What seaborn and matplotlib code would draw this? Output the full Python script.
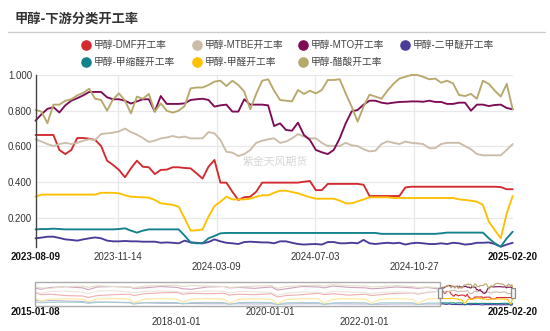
import numpy as np
import pandas as pd
import matplotlib
matplotlib.use('Agg')
import matplotlib.pyplot as plt
import matplotlib.transforms as mtransforms
from matplotlib.lines import Line2D
from matplotlib.patches import Rectangle
import seaborn as sns

# ---------------- data ----------------
TITLE = '甲醇-下游分类开工率'
WATERMARK = '紫金天风期货'
SERIES = ['甲醇-DMF开工率', '甲醇-MTBE开工率', '甲醇-MTO开工率', '甲醇-二甲醚开工率',
          '甲醇-甲缩醛开工率', '甲醇-甲醛开工率', '甲醇-醋酸开工率']
COLORS = ['#d42a2f', '#cbbca8', '#7d0c55', '#4b3b98', '#13818b', '#ffc000', '#b7a86c']

START, END = '2023-08-09', '2025-02-20'
TICK_DATES = ['2023-11-14', '2024-03-09', '2024-07-03', '2024-10-27']
NAV_START = '2015-01-08'
NAV_TICKS = ['2018-01-01', '2020-01-01', '2022-01-01']

DMF = [0.664, 0.664, 0.664, 0.664, 0.58, 0.557, 0.58, 0.647, 0.647, 0.643,
       0.636, 0.602, 0.52, 0.496, 0.468, 0.427, 0.477, 0.52, 0.486, 0.483,
       0.445, 0.468, 0.47, 0.483, 0.483, 0.479, 0.477, 0.449, 0.42, 0.486,
       0.524, 0.397, 0.397, 0.346, 0.30, 0.315, 0.318, 0.346, 0.397, 0.397,
       0.397, 0.397, 0.397, 0.397, 0.397, 0.402, 0.406, 0.355, 0.355, 0.39,
       0.39, 0.39, 0.39, 0.39, 0.39, 0.385, 0.322, 0.322, 0.322, 0.322,
       0.322, 0.322, 0.37, 0.374, 0.374, 0.374, 0.374, 0.374, 0.374, 0.374,
       0.374, 0.374, 0.374, 0.374, 0.374, 0.374, 0.374, 0.374, 0.372, 0.36, 0.36]
MTBE = [0.64, 0.627, 0.613, 0.602, 0.613, 0.62, 0.613, 0.62, 0.632, 0.64,
        0.636, 0.669, 0.673, 0.677, 0.684, 0.70, 0.68, 0.666, 0.647, 0.625,
        0.632, 0.645, 0.65, 0.658, 0.65, 0.655, 0.645, 0.645, 0.645, 0.68,
        0.673, 0.636, 0.57, 0.565, 0.546, 0.557, 0.58, 0.62, 0.632, 0.64,
        0.645, 0.62, 0.627, 0.645, 0.669, 0.655, 0.645, 0.645, 0.62, 0.602,
        0.602, 0.602, 0.62, 0.606, 0.602, 0.584, 0.572, 0.576, 0.613, 0.628,
        0.62, 0.613, 0.627, 0.62, 0.617, 0.613, 0.59, 0.59, 0.613, 0.62,
        0.62, 0.62, 0.602, 0.584, 0.557, 0.55, 0.55, 0.55, 0.55, 0.58, 0.613]
MTO = [0.744, 0.78, 0.81, 0.82, 0.79, 0.83, 0.856, 0.87, 0.886, 0.905,
       0.905, 0.905, 0.875, 0.864, 0.864, 0.856, 0.84, 0.852, 0.864, 0.864,
       0.795, 0.882, 0.838, 0.838, 0.838, 0.841, 0.86, 0.864, 0.867, 0.86,
       0.823, 0.83, 0.834, 0.795, 0.795, 0.864, 0.834, 0.834, 0.834, 0.83,
       0.714, 0.729, 0.692, 0.688, 0.733, 0.664, 0.636, 0.58, 0.567, 0.557,
       0.58, 0.645, 0.729, 0.796, 0.804, 0.834, 0.856, 0.856, 0.845, 0.84,
       0.845, 0.849, 0.85, 0.852, 0.852, 0.85, 0.856, 0.849, 0.849, 0.838,
       0.838, 0.845, 0.845, 0.80, 0.834, 0.834, 0.826, 0.832, 0.834, 0.815, 0.808]
DME = [0.085, 0.089, 0.094, 0.094, 0.087, 0.079, 0.076, 0.072, 0.079, 0.085,
       0.09, 0.085, 0.072, 0.068, 0.068, 0.07, 0.068, 0.068, 0.066, 0.066,
       0.066, 0.06, 0.062, 0.06, 0.057, 0.072, 0.062, 0.06, 0.057, 0.064,
       0.079, 0.068, 0.06, 0.057, 0.053, 0.064, 0.066, 0.064, 0.062, 0.062,
       0.057, 0.068, 0.068, 0.06, 0.053, 0.05, 0.052, 0.053, 0.05, 0.064,
       0.064, 0.057, 0.057, 0.06, 0.057, 0.076, 0.057, 0.053, 0.057, 0.06,
       0.057, 0.06, 0.05, 0.057, 0.06, 0.057, 0.053, 0.053, 0.057, 0.053,
       0.06, 0.057, 0.05, 0.053, 0.06, 0.06, 0.062, 0.053, 0.038, 0.05, 0.06]
POM = [0.135, 0.137, 0.137, 0.139, 0.137, 0.135, 0.135, 0.135, 0.135, 0.135,
       0.135, 0.135, 0.135, 0.135, 0.137, 0.141, 0.128, 0.117, 0.128, 0.135,
       0.135, 0.135, 0.135, 0.135, 0.135, 0.10, 0.062, 0.057, 0.057, 0.085,
       0.098, 0.113, 0.115, 0.115, 0.115, 0.115, 0.115, 0.115, 0.115, 0.115,
       0.115, 0.115, 0.115, 0.115, 0.115, 0.115, 0.115, 0.115, 0.115, 0.115,
       0.115, 0.115, 0.115, 0.115, 0.115, 0.115, 0.115, 0.115, 0.11, 0.11,
       0.11, 0.11, 0.11, 0.11, 0.11, 0.11, 0.11, 0.11, 0.113, 0.117,
       0.117, 0.117, 0.117, 0.117, 0.117, 0.117, 0.085, 0.057, 0.038, 0.085, 0.122]
FA = [0.318, 0.33, 0.33, 0.33, 0.33, 0.33, 0.33, 0.33, 0.33, 0.33,
      0.33, 0.34, 0.34, 0.34, 0.337, 0.326, 0.318, 0.316, 0.315, 0.313,
      0.30, 0.281, 0.277, 0.272, 0.262, 0.197, 0.128, 0.13, 0.135, 0.206,
      0.266, 0.29, 0.318, 0.303, 0.303, 0.303, 0.307, 0.318, 0.326, 0.326,
      0.34, 0.352, 0.352, 0.344, 0.337, 0.326, 0.315, 0.307, 0.307, 0.307,
      0.307, 0.296, 0.281, 0.281, 0.292, 0.303, 0.315, 0.315, 0.315, 0.315,
      0.311, 0.311, 0.311, 0.311, 0.311, 0.311, 0.311, 0.311, 0.311, 0.311,
      0.311, 0.303, 0.30, 0.296, 0.29, 0.272, 0.178, 0.131, 0.085, 0.225, 0.322]
ACETIC = [0.804, 0.795, 0.73, 0.834, 0.834, 0.856, 0.864, 0.886, 0.90, 0.923,
          0.867, 0.86, 0.80, 0.864, 0.897, 0.856, 0.785, 0.879, 0.867, 0.894,
          0.795, 0.841, 0.80, 0.789, 0.80, 0.826, 0.925, 0.93, 0.93, 0.944,
          0.963, 0.968, 0.938, 0.968, 0.944, 0.907, 0.808, 0.894, 0.968, 0.976,
          0.912, 0.86, 0.856, 0.852, 0.916, 0.894, 0.912, 0.897, 0.916, 0.972,
          0.972, 0.976, 0.897, 0.823, 0.739, 0.823, 0.89, 0.879, 0.867, 0.912,
          0.95, 0.98, 0.99, 1.0, 1.0, 0.99, 0.976, 0.98, 0.957, 0.968,
          0.953, 0.888, 0.882, 0.894, 0.867, 0.968, 0.95, 0.912, 0.879, 0.95, 0.808]

# history shown only in the zoom navigator (rough reading)
HIST_DATES = ['2015-01-08', '2015-02-20', '2015-05-01', '2015-09-01',
              '2016-01-10', '2016-02-20', '2016-05-01', '2016-09-01',
              '2017-01-10', '2017-02-05', '2017-05-01', '2017-09-01',
              '2018-01-10', '2018-02-20', '2018-05-01', '2018-09-01',
              '2019-01-10', '2019-02-15', '2019-05-01', '2019-09-01',
              '2020-01-10', '2020-02-25', '2020-05-01', '2020-09-01',
              '2021-01-10', '2021-02-20', '2021-05-01', '2021-09-01',
              '2022-01-10', '2022-02-20', '2022-05-01', '2022-09-01',
              '2023-01-10', '2023-02-15', '2023-05-01']
H_MTO = [0.78, 0.74, 0.82, 0.85, 0.80, 0.72, 0.84, 0.86, 0.83, 0.78, 0.80, 0.86,
         0.82, 0.76, 0.74, 0.84, 0.86, 0.80, 0.82, 0.78, 0.84, 0.70, 0.76, 0.86,
         0.84, 0.80, 0.88, 0.82, 0.80, 0.76, 0.78, 0.84, 0.80, 0.78, 0.82]
H_ACETIC = [0.84, 0.80, 0.78, 0.86, 0.88, 0.82, 0.90, 0.86, 0.84, 0.80, 0.88, 0.90,
            0.92, 0.86, 0.90, 0.88, 0.86, 0.82, 0.84, 0.88, 0.90, 0.78, 0.86, 0.90,
            0.92, 0.88, 0.94, 0.90, 0.88, 0.84, 0.86, 0.90, 0.86, 0.82, 0.84]
H_MTBE = [0.62, 0.56, 0.64, 0.66, 0.60, 0.54, 0.66, 0.68, 0.62, 0.58, 0.64, 0.66,
          0.64, 0.58, 0.62, 0.66, 0.64, 0.58, 0.64, 0.62, 0.60, 0.48, 0.56, 0.62,
          0.60, 0.56, 0.64, 0.62, 0.58, 0.54, 0.60, 0.62, 0.60, 0.56, 0.62]
H_DMF = [0.58, 0.50, 0.52, 0.46, 0.44, 0.38, 0.46, 0.50, 0.52, 0.46, 0.54, 0.58,
         0.60, 0.52, 0.56, 0.54, 0.56, 0.48, 0.52, 0.50, 0.54, 0.40, 0.46, 0.50,
         0.56, 0.50, 0.54, 0.48, 0.52, 0.46, 0.50, 0.56, 0.58, 0.52, 0.60]
H_FA = [0.32, 0.22, 0.30, 0.32, 0.30, 0.20, 0.30, 0.33, 0.30, 0.14, 0.30, 0.32,
        0.30, 0.18, 0.30, 0.32, 0.30, 0.12, 0.30, 0.31, 0.30, 0.10, 0.28, 0.32,
        0.32, 0.12, 0.30, 0.32, 0.30, 0.12, 0.30, 0.32, 0.30, 0.10, 0.32]
H_POM = [0.18, 0.14, 0.16, 0.17, 0.16, 0.12, 0.16, 0.17, 0.16, 0.08, 0.15, 0.16,
         0.15, 0.10, 0.15, 0.16, 0.15, 0.07, 0.15, 0.16, 0.15, 0.06, 0.14, 0.15,
         0.15, 0.07, 0.14, 0.15, 0.14, 0.06, 0.14, 0.14, 0.14, 0.06, 0.13]
H_DME = [0.26, 0.22, 0.24, 0.22, 0.20, 0.16, 0.18, 0.16, 0.14, 0.12, 0.14, 0.12,
         0.12, 0.10, 0.11, 0.10, 0.10, 0.09, 0.10, 0.09, 0.10, 0.07, 0.09, 0.10,
         0.10, 0.08, 0.10, 0.09, 0.09, 0.07, 0.08, 0.09, 0.09, 0.07, 0.09]

# ---------------- frames ----------------
dates = pd.date_range(START, END, periods=len(DMF))
main_vals = [DMF, MTBE, MTO, DME, POM, FA, ACETIC]
hist_vals = [H_DMF, H_MTBE, H_MTO, H_DME, H_POM, H_FA, H_ACETIC]
hist_dates = pd.to_datetime(HIST_DATES)

rows, nav_rows = [], []
for name, mv, hv in zip(SERIES, main_vals, hist_vals):
    for d, v in zip(dates, mv):
        rows.append((d, v, name))
    for d, v in zip(hist_dates, hv):
        nav_rows.append((d, v, name))
df = pd.DataFrame(rows, columns=['date', 'value', 'series'])
nav_df = pd.concat([pd.DataFrame(nav_rows, columns=['date', 'value', 'series']), df],
                   ignore_index=True).sort_values(['series', 'date'])

# ---------------- style ----------------
sns.set_theme(style='white')
plt.rcParams['font.family'] = ['Liberation Sans', 'Noto Sans CJK SC', 'DejaVu Sans']
plt.rcParams['axes.unicode_minus'] = False

W, H = 550, 331
fig = plt.figure(figsize=(W / 100, H / 100), dpi=100)
fig.patch.set_facecolor('white')

def fx(px):
    return px / W

def fy(py):
    return 1 - py / H

TXT = '#333333'

# title + rule
fig.text(fx(14), fy(19), TITLE, fontsize=9.5, fontweight='bold', color=TXT,
         va='center', ha='left', family=['Noto Sans CJK SC', 'DejaVu Sans'])
fig.add_artist(Line2D([fx(8), fx(545)], [fy(32), fy(32)], color='#cccccc', lw=1.0))

# legend (manual, two rows)
leg_pos = [(86, 45), (197, 45), (303, 45), (405, 45), (86, 62), (197, 62), (303, 62)]
for (px, py), name, col in zip(leg_pos, SERIES, COLORS):
    fig.add_artist(Line2D([fx(px)], [fy(py)], marker='o', markersize=6.6,
                          markerfacecolor=col, markeredgecolor=col, lw=0))
    fig.text(fx(px + 8), fy(py), name, fontsize=7, color='#444444', va='center', ha='left')

# ---------------- main axes ----------------
ax = fig.add_axes([fx(35.5), fy(246.7), fx(512.7) - fx(35.5), fy(75) - fy(246.7)])
sns.lineplot(data=df, x='date', y='value', hue='series', hue_order=SERIES,
             palette=COLORS, estimator=None, linewidth=1.35, legend=False, ax=ax)
for ln in ax.lines:
    ln.set_clip_on(False)
ax.set_xlim(pd.Timestamp(START), pd.Timestamp(END))
ax.set_ylim(0.038, 1.0)
ax.set_yticks([0.2, 0.4, 0.6, 0.8, 1.0])
ax.set_yticklabels([f'{v:.3f}' for v in [0.2, 0.4, 0.6, 0.8, 1.0]])
ax.set_xticks(pd.to_datetime(TICK_DATES))
ax.set_xticklabels([])
ax.set_xlabel('')
ax.set_ylabel('')
ax.grid(True, color='#e8e8e8', lw=0.9)
ax.set_axisbelow(True)
for s in ['top', 'right', 'bottom']:
    ax.spines[s].set_visible(False)
ax.spines['left'].set_color('#444444')
ax.spines['left'].set_linewidth(1.0)
ax.tick_params(axis='both', length=0, labelsize=7, colors=TXT, pad=2.5)
ax.set_facecolor('none')

trans = mtransforms.blended_transform_factory(ax.transData, fig.transFigure)
ax.text(pd.Timestamp(START), fy(257.5), START, transform=trans, ha='center', va='center',
        fontsize=7, fontweight='bold', color='#111111')
ax.text(pd.Timestamp(END), fy(257.5), END, transform=trans, ha='center', va='center',
        fontsize=7, fontweight='bold', color='#111111')
for i, d in enumerate(TICK_DATES):
    yy = fy(257.5) if i % 2 == 0 else fy(267.5)
    ax.text(pd.Timestamp(d), yy, d, transform=trans, ha='center', va='center',
            fontsize=7, color=TXT)

fig.text(fx(275), fy(162), WATERMARK, fontsize=7.8, color='#d6d6d6', ha='center',
         va='center', family=['Noto Sans CJK SC', 'DejaVu Sans'])

# ---------------- navigator ----------------
nav = fig.add_axes([fx(35.5), fy(306), fx(512.7) - fx(35.5), fy(282) - fy(306)])
sns.lineplot(data=nav_df, x='date', y='value', hue='series', hue_order=SERIES,
             palette=COLORS, estimator=None, linewidth=0.8, legend=False, ax=nav)
nav.set_xlim(pd.Timestamp(NAV_START), pd.Timestamp(END))
nav.set_ylim(0.0, 1.06)
nav.axis('off')
ntr = mtransforms.blended_transform_factory(nav.transData, nav.transAxes)
x0 = matplotlib.dates.date2num(pd.Timestamp(NAV_START))
x1 = matplotlib.dates.date2num(pd.Timestamp(START))
nav.add_patch(Rectangle((x0, 0), x1 - x0, 1, transform=ntr, facecolor=(1, 1, 1, 0.62),
                        edgecolor='#aaaaaa', lw=1.0, zorder=5, clip_on=False))
# handles
for d in [START, END]:
    xd = matplotlib.dates.date2num(pd.Timestamp(d))
    xp = nav.transData.transform((xd, 0))[0]
    fig.add_artist(Rectangle(((xp - 2) / W, fy(298)), 4 / W, 10 / H,
                             transform=fig.transFigure, facecolor='#f4f4f4',
                             edgecolor='#8c8c8c', lw=0.9, zorder=10))

ntrans = mtransforms.blended_transform_factory(nav.transData, fig.transFigure)
nav.text(pd.Timestamp(NAV_START), fy(312), NAV_START, transform=ntrans, ha='center',
         va='center', fontsize=7, fontweight='bold', color='#111111')
nav.text(pd.Timestamp(END), fy(312), END, transform=ntrans, ha='center',
         va='center', fontsize=7, fontweight='bold', color='#111111')
nav.text(pd.Timestamp(NAV_TICKS[1]), fy(312), NAV_TICKS[1], transform=ntrans, ha='center',
         va='center', fontsize=7, color=TXT)
nav.text(pd.Timestamp(NAV_TICKS[0]), fy(322), NAV_TICKS[0], transform=ntrans, ha='center',
         va='center', fontsize=7, color=TXT)
nav.text(pd.Timestamp(NAV_TICKS[2]), fy(322), NAV_TICKS[2], transform=ntrans, ha='center',
         va='center', fontsize=7, color=TXT)

fig.savefig('out.png', dpi=100, facecolor='white')
